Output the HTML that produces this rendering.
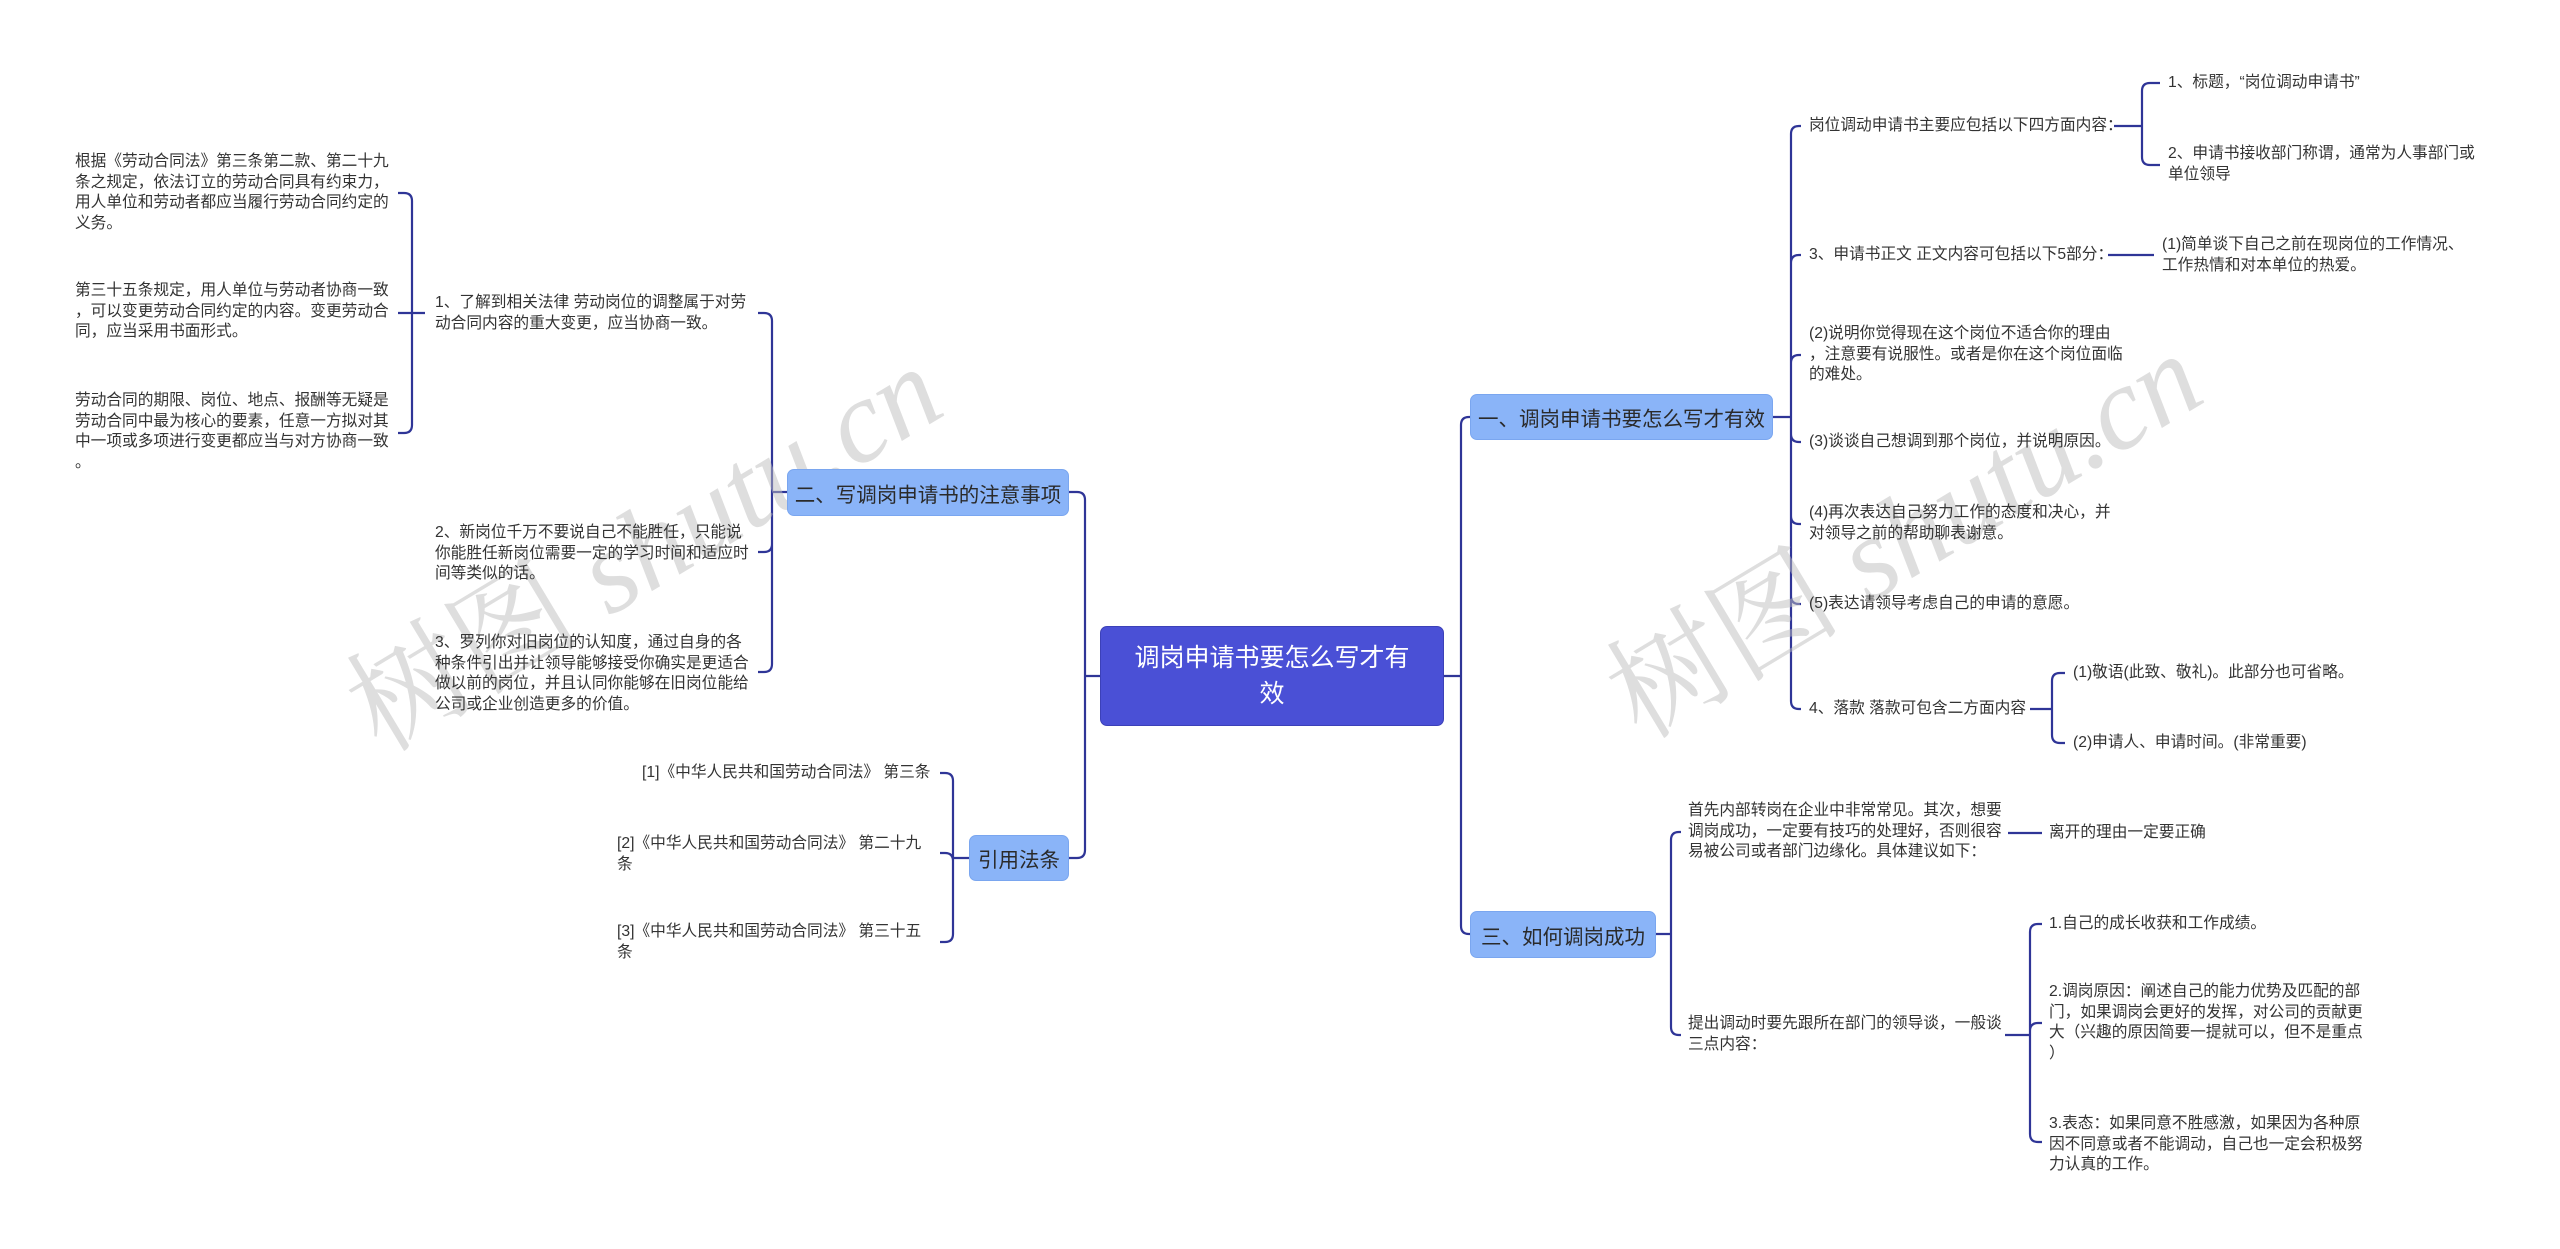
<!DOCTYPE html>
<html><head><meta charset="utf-8">
<style>
html,body{margin:0;padding:0;background:#fff;}
body{width:2560px;height:1249px;position:relative;overflow:hidden;font-family:"Liberation Sans","Noto Sans CJK SC",sans-serif;}
.t{position:absolute;font-size:15.7px;line-height:20.5px;color:#333;white-space:nowrap;}
.b{position:absolute;background:#8ab4f8;border:1px solid #7aa6ef;border-radius:7px;color:#2a2a2a;font-size:20.5px;display:flex;align-items:center;justify-content:center;box-sizing:border-box;white-space:nowrap;}
.root{position:absolute;left:1100px;top:626px;width:344px;height:100px;background:#4a50d6;border-radius:7px;color:#fff;font-size:25px;line-height:36px;text-align:center;display:flex;align-items:center;justify-content:center;box-sizing:border-box;border:1px solid #3c41b8;}
.wm{position:absolute;font-family:"Liberation Serif","Noto Serif CJK SC",serif;font-size:118px;color:rgba(190,190,190,0.5);white-space:nowrap;transform-origin:left center;}
svg{position:absolute;left:0;top:0;}
</style></head><body>
<svg width="2560" height="1249" id="s"></svg>

<div class="wm" style="left:355px;top:625px;transform:rotate(-31deg);">树图 <i>shutu.cn</i></div>
<div class="wm" style="left:1615px;top:612px;transform:rotate(-31deg);">树图 <i>shutu.cn</i></div>

<div class="root">调岗申请书要怎么写才有<br>效</div>
<div class="b" style="left:1470px;top:394px;width:303px;height:46px;">一、调岗申请书要怎么写才有效</div>
<div class="b" style="left:1470px;top:911px;width:186px;height:47px;">三、如何调岗成功</div>
<div class="b" style="left:787px;top:469px;width:282px;height:47px;">二、写调岗申请书的注意事项</div>
<div class="b" style="left:969px;top:835px;width:100px;height:46px;">引用法条</div>

<div class="t" style="left:1809px;top:116px;">岗位调动申请书主要应包括以下四方面内容：</div>
<div class="t" style="left:2168px;top:73px;">1、标题，“岗位调动申请书”</div>
<div class="t" style="left:2168px;top:144px;">2、申请书接收部门称谓，通常为人事部门或<br>单位领导</div>
<div class="t" style="left:1809px;top:245px;">3、申请书正文 正文内容可包括以下5部分：</div>
<div class="t" style="left:2162px;top:235px;">(1)简单谈下自己之前在现岗位的工作情况、<br>工作热情和对本单位的热爱。</div>
<div class="t" style="left:1809px;top:324px;">(2)说明你觉得现在这个岗位不适合你的理由<br>，注意要有说服性。或者是你在这个岗位面临<br>的难处。</div>
<div class="t" style="left:1809px;top:432px;">(3)谈谈自己想调到那个岗位，并说明原因。</div>
<div class="t" style="left:1809px;top:503px;">(4)再次表达自己努力工作的态度和决心，并<br>对领导之前的帮助聊表谢意。</div>
<div class="t" style="left:1809px;top:594px;">(5)表达请领导考虑自己的申请的意愿。</div>
<div class="t" style="left:1809px;top:699px;">4、落款 落款可包含二方面内容</div>
<div class="t" style="left:2073px;top:663px;">(1)敬语(此致、敬礼)。此部分也可省略。</div>
<div class="t" style="left:2073px;top:733px;">(2)申请人、申请时间。(非常重要)</div>

<div class="t" style="left:1688px;top:801px;">首先内部转岗在企业中非常常见。其次，想要<br>调岗成功，一定要有技巧的处理好，否则很容<br>易被公司或者部门边缘化。具体建议如下：</div>
<div class="t" style="left:2049px;top:823px;">离开的理由一定要正确</div>
<div class="t" style="left:1688px;top:1014px;">提出调动时要先跟所在部门的领导谈，一般谈<br>三点内容：</div>
<div class="t" style="left:2049px;top:914px;">1.自己的成长收获和工作成绩。</div>
<div class="t" style="left:2049px;top:982px;">2.调岗原因：阐述自己的能力优势及匹配的部<br>门，如果调岗会更好的发挥，对公司的贡献更<br>大（兴趣的原因简要一提就可以，但不是重点<br>）</div>
<div class="t" style="left:2049px;top:1114px;">3.表态：如果同意不胜感激，如果因为各种原<br>因不同意或者不能调动，自己也一定会积极努<br>力认真的工作。</div>

<div class="t" style="left:435px;top:293px;">1、了解到相关法律 劳动岗位的调整属于对劳<br>动合同内容的重大变更，应当协商一致。</div>
<div class="t" style="left:75px;top:152px;">根据《劳动合同法》第三条第二款、第二十九<br>条之规定，依法订立的劳动合同具有约束力，<br>用人单位和劳动者都应当履行劳动合同约定的<br>义务。</div>
<div class="t" style="left:75px;top:281px;">第三十五条规定，用人单位与劳动者协商一致<br>，可以变更劳动合同约定的内容。变更劳动合<br>同，应当采用书面形式。</div>
<div class="t" style="left:75px;top:391px;">劳动合同的期限、岗位、地点、报酬等无疑是<br>劳动合同中最为核心的要素，任意一方拟对其<br>中一项或多项进行变更都应当与对方协商一致<br>。</div>
<div class="t" style="left:435px;top:523px;">2、新岗位千万不要说自己不能胜任，只能说<br>你能胜任新岗位需要一定的学习时间和适应时<br>间等类似的话。</div>
<div class="t" style="left:435px;top:633px;">3、罗列你对旧岗位的认知度，通过自身的各<br>种条件引出并让领导能够接受你确实是更适合<br>做以前的岗位，并且认同你能够在旧岗位能给<br>公司或企业创造更多的价值。</div>
<div class="t" style="left:642px;top:763px;">[1]《中华人民共和国劳动合同法》 第三条</div>
<div class="t" style="left:617px;top:834px;">[2]《中华人民共和国劳动合同法》 第二十九<br>条</div>
<div class="t" style="left:617px;top:922px;">[3]《中华人民共和国劳动合同法》 第三十五<br>条</div>

<script>
var s=document.getElementById('s'),d='';
function br(px,py,sx,cx,cys){
  var dir=cx>sx?1:-1,r=8;
  cys.forEach(function(cy){
    d+='M'+px+' '+py+'H'+sx;
    if(Math.abs(cy-py)<2){d+='H'+cx;return;}
    var sg=cy>py?1:-1;
    d+='V'+(cy-sg*r)+'Q'+sx+' '+cy+' '+(sx+dir*r)+' '+cy+'H'+cx;
  });
}
br(1444,676,1461,1470,[417,934]);
br(1100,676,1085,1069,[492,858]);
br(1773,417,1791,1801,[126,255,355,442,524,604,709]);
br(2114,126,2142,2160,[83,165]);
br(2108,255,2130,2154,[255]);
br(2030,709,2052,2065,[673,743]);
br(1656,934,1671,1681,[832,1035]);
br(2008,833,2025,2042,[833]);
br(2005,1035,2030,2042,[924,1023,1142]);
br(787,492,772,758,[313,552,672]);
br(425,313,412,398,[193,312,433]);
br(969,858,953,940,[773,853,942]);
var p=document.createElementNS('http://www.w3.org/2000/svg','path');
p.setAttribute('d',d);p.setAttribute('fill','none');p.setAttribute('stroke','#2f3597');p.setAttribute('stroke-width','2.2');
s.appendChild(p);
</script>
</body></html>
